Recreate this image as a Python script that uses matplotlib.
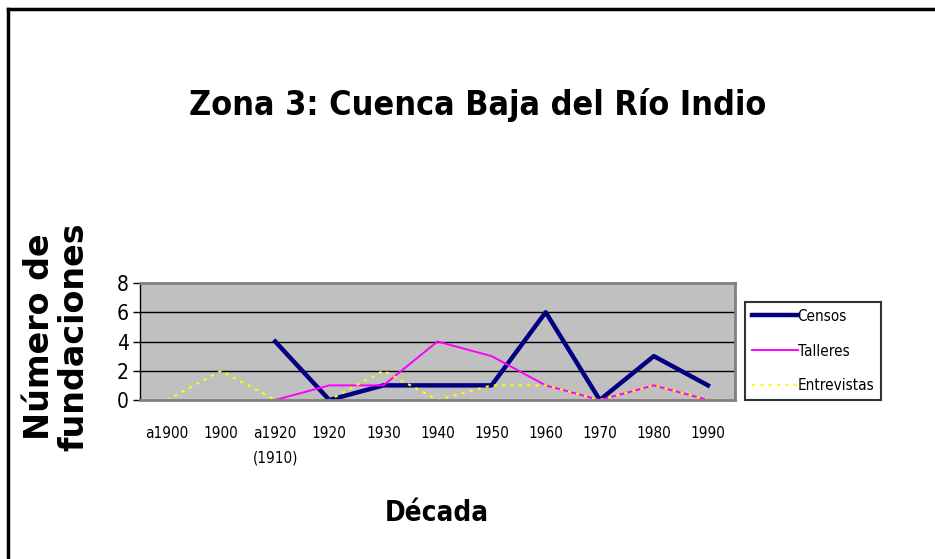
import matplotlib
matplotlib.use('Agg')
import matplotlib.pyplot as plt
from matplotlib import font_manager as fm
import numpy as np

# datos
decadas = ['a1900', '1900', 'a1920\n(1910)', '1920', '1930', '1940',
           '1950', '1960', '1970', '1980', '1990']
censos = [np.nan, np.nan, 4, 0, 1, 1, 1, 6, 0, 3, 1]
talleres = [np.nan, np.nan, 0, 1, 1, 4, 3, 1, 0, 1, 0]
entrevistas = [0, 2, 0, 0, 2, 0, 1, 1, 0, 1, 0]

# buscar una letra estrecha tipo Arial Narrow
narrow_fonts = [f for f in fm.fontManager.ttflist
                if 'Narrow' in f.name or 'Condensed' in f.name
                or f.stretch in ('condensed', 'semi-condensed')]
stretch = 'normal'
if narrow_fonts:
    nf = narrow_fonts[0]
    fam = nf.name
    stretch = nf.stretch
else:
    fam = 'Liberation Sans'
plt.rcParams['font.family'] = [fam, 'Liberation Sans', 'DejaVu Sans']
plt.rcParams['font.stretch'] = stretch

fig = plt.figure(figsize=(9.35, 5.59), dpi=100)
ax = fig.add_axes([140/935, 159/559, 595/935, 117/559])

x = np.arange(len(decadas))
ax.plot(x, censos, color='#000080', lw=3.2, label='Censos')
ax.plot(x, talleres, color='#FF00FF', lw=1.4, label='Talleres')
ax.plot(x, entrevistas, color='#FFFF00', lw=1.5, ls=(0, (1.5, 2.5)), label='Entrevistas')

# area gris y lineas de division
ax.set_facecolor('#C0C0C0')
ax.set_xlim(-0.5, len(decadas) - 0.5)
ax.set_ylim(0, 8)
ax.set_yticks([0, 2, 4, 6, 8])
for yy in [2, 4, 6]:
    ax.axhline(yy, color='black', lw=1, zorder=0.5)
for s in ['top', 'right', 'bottom']:
    ax.spines[s].set_color('#808080')
    ax.spines[s].set_linewidth(2)
ax.spines['left'].set_color('black')
ax.spines['left'].set_linewidth(1)
ax.set_xticks(x)
ax.set_xticklabels(decadas, fontsize=11, va='top', linespacing=1.75)
ax.tick_params(axis='x', length=0, pad=19)
ax.tick_params(axis='y', labelsize=15, length=5, width=1, direction='out', pad=3)

# titulos
fig.text(0.511, 0.812, 'Zona 3: Cuenca Baja del Río Indio', ha='center', va='center',
         fontsize=24.5, fontweight='bold')
fig.text(0.467, 0.083, 'Década', ha='center', va='center', fontsize=20, fontweight='bold')
fig.text(0.061, 0.397, 'Número de\nfundaciones', ha='center', va='center', rotation=90,
         fontsize=24, fontweight='bold', family=['DejaVu Sans'], stretch='normal',
         linespacing=1.05)

# leyenda
leg = ax.legend(loc='center left', bbox_to_anchor=(745/935, (559-351)/559),
                bbox_transform=fig.transFigure, fontsize=11, frameon=True,
                fancybox=False, edgecolor='black', handlelength=3.0,
                handletextpad=0.0, borderpad=0.45, labelspacing=1.3, borderaxespad=0)
leg.get_frame().set_linewidth(1.5)

# marco exterior
fig.add_artist(plt.Line2D([8/935, 1], [1 - 9/559, 1 - 9/559], color='black', lw=2.5,
                          transform=fig.transFigure))
fig.add_artist(plt.Line2D([8/935, 8/935], [0, 1 - 9/559], color='black', lw=2.5,
                          transform=fig.transFigure))

plt.savefig('out.png', dpi=100)
